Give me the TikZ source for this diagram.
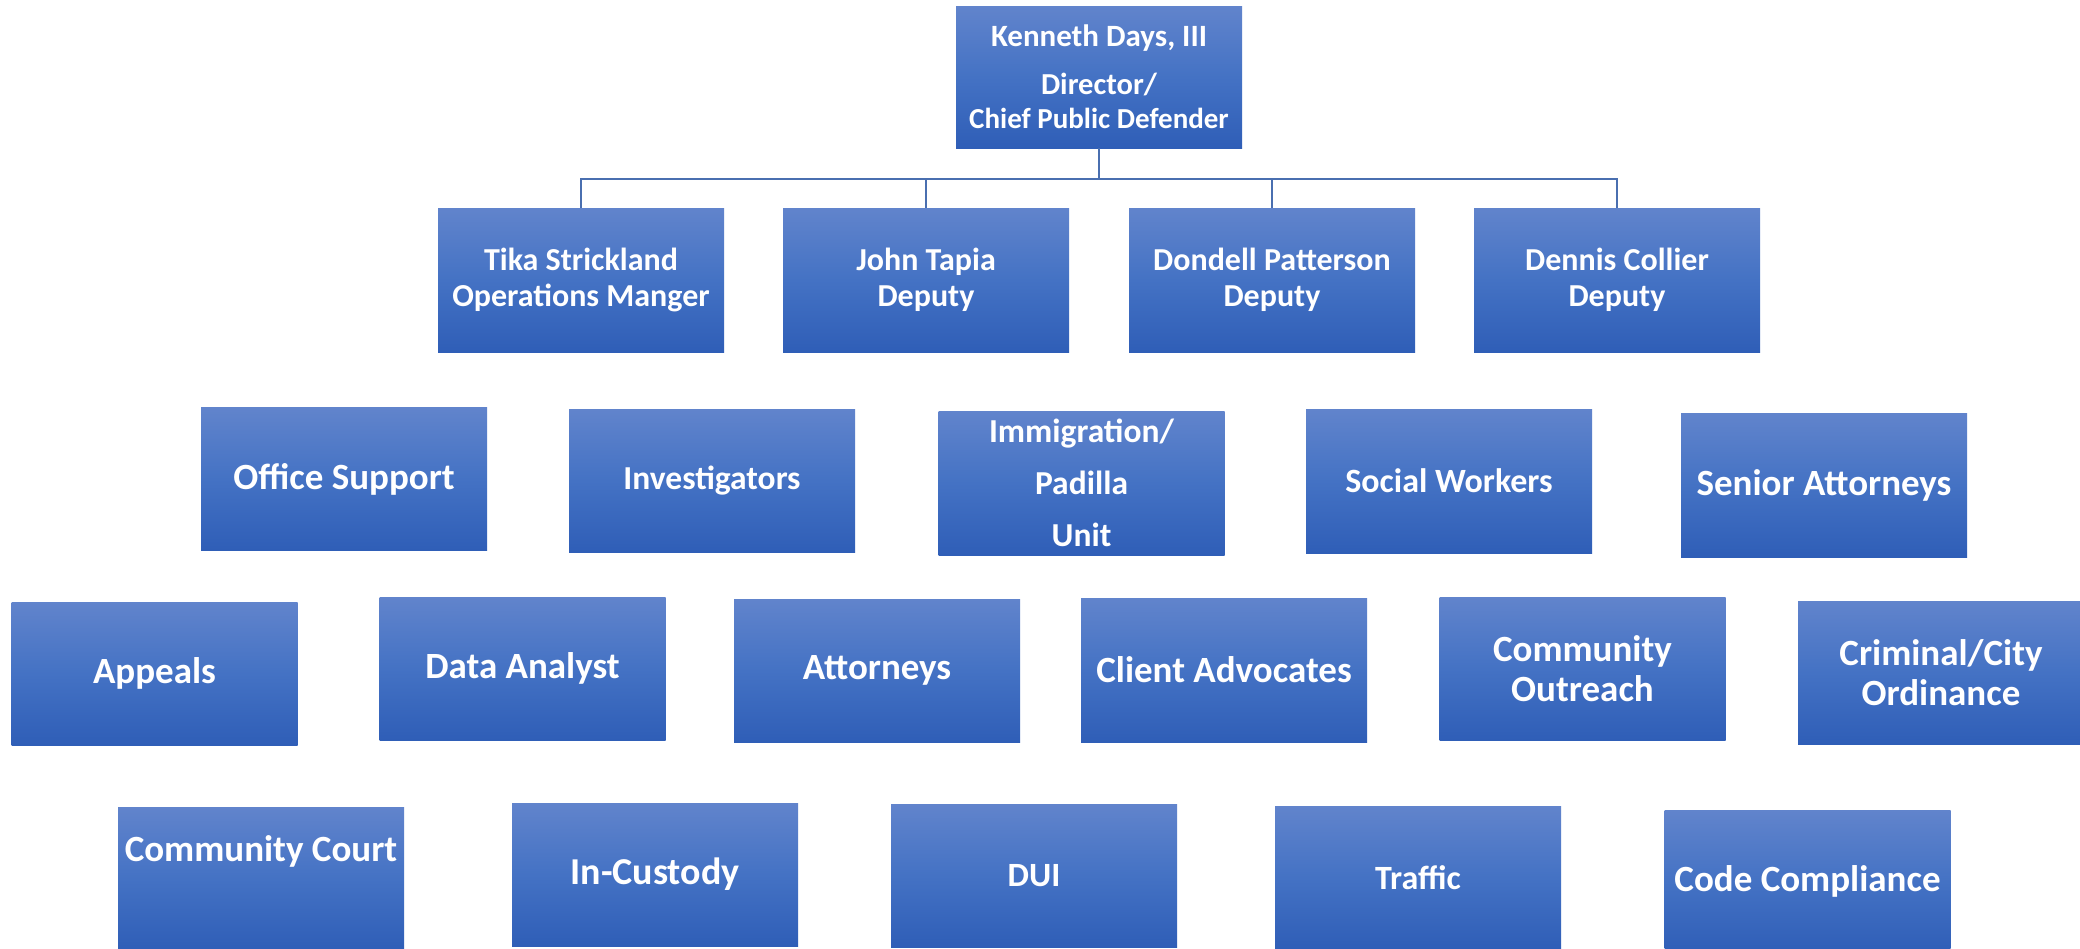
\documentclass[tikz,border=0pt]{standalone}
\usepackage{fontspec}
\setmainfont{Carlito}
\usetikzlibrary{calc}
\definecolor{boxtop}{HTML}{6184CC}
\definecolor{boxmid}{HTML}{4472C4}
\definecolor{boxbot}{HTML}{2F5EB7}
\definecolor{linec}{HTML}{4A6FB0}
\newcommand\fsz[2]{\fontsize{#1}{#2}\selectfont\bfseries}
\tikzset{
  orgbox/.style={rectangle, inner sep=0pt, minimum width=286pt, minimum height=143pt,
    top color=boxtop, bottom color=boxbot, middle color=boxmid,
    text=white, align=center},
  conn/.style={draw=linec, line width=2pt},
}
\begin{document}
\begin{tikzpicture}[x=1pt,y=-1pt]
\useasboundingbox[fill=white] (0,0) rectangle (2080,948);

% top
\node[orgbox, minimum height=142pt, font=\fsz{30}{34}] (ken) at (1099,77)
  {{\fontsize{31}{34}\selectfont Kenneth Days, III}\\[14pt]{\fontsize{30.5}{34}\selectfont Director/}\\{\fontsize{29}{34}\selectfont Chief Public Defender}};

% row 2
\node[orgbox, minimum height=144pt, font=\fsz{32}{36}] (tika) at (581,280) {Tika Strickland\\Operations Manger};
\node[orgbox, minimum height=144pt, font=\fsz{32}{36}] (john) at (926,280) {John Tapia\\Deputy};
\node[orgbox, minimum height=144pt, font=\fsz{32}{36}] (dondell) at (1272,280) {Dondell Patterson\\Deputy};
\node[orgbox, minimum height=144pt, font=\fsz{32}{36}] (dennis) at (1617,280) {Dennis Collier\\Deputy};

% connectors
\coordinate (bus) at (1099,179);
\draw[conn] (ken.south) -- (bus);
\draw[conn] (bus) -| (tika.north);
\draw[conn] (bus) -| (john.north);
\draw[conn] (bus) -| (dondell.north);
\draw[conn] (bus) -| (dennis.north);

% row 3
\node[orgbox, font=\fsz{37}{44}] (office) at (344,479) {Office Support};
\node[orgbox, font=\fsz{33.5}{40}] (invest) at (712,480.5) {Investigators};
\node[orgbox, minimum height=144pt, font=\fsz{33.5}{52}] (immig) at (1081.5,483) {Immigration/\\Padilla\\Unit};
\node[orgbox, minimum height=144pt, font=\fsz{34}{40}] (social) at (1449,481) {Social Workers};
\node[orgbox, minimum height=144pt, font=\fsz{37}{42}] (senior) at (1824,485) {Senior Attorneys};

% row 4
\node[orgbox, font=\fsz{37}{44}] (appeals) at (154.5,673.5) {Appeals};
\node[orgbox, font=\fsz{37}{44}] (data) at (522.5,668.5) {Data Analyst};
\node[orgbox, font=\fsz{37}{44}] (attys) at (877,670.5) {Attorneys};
\node[orgbox, minimum height=144pt, font=\fsz{37}{44}] (client) at (1224,670) {Client Advocates};
\node[orgbox, font=\fsz{37}{40}] (outreach) at (1582.5,668.5) {Community\\Outreach};
\node[orgbox, font=\fsz{37}{40}] (criminal) at (1941,672.5) {Criminal/City\\Ordinance};

% row 5
\node[orgbox, font=\fsz{37}{44}, text height=28pt, text depth=62pt] (ccourt) at (261,878.5) {Community Court};
\node[orgbox, font=\fsz{38}{44}] (custody) at (655,874.5) {In-Custody};
\node[orgbox, font=\fsz{34}{40}] (dui) at (1034,875.5) {DUI};
\node[orgbox, font=\fsz{34}{40}] (traffic) at (1418,877.5) {Traffic};
\node[orgbox, font=\fsz{37}{42}] (code) at (1807.5,881.5) {Code Compliance};
\end{tikzpicture}
\end{document}
